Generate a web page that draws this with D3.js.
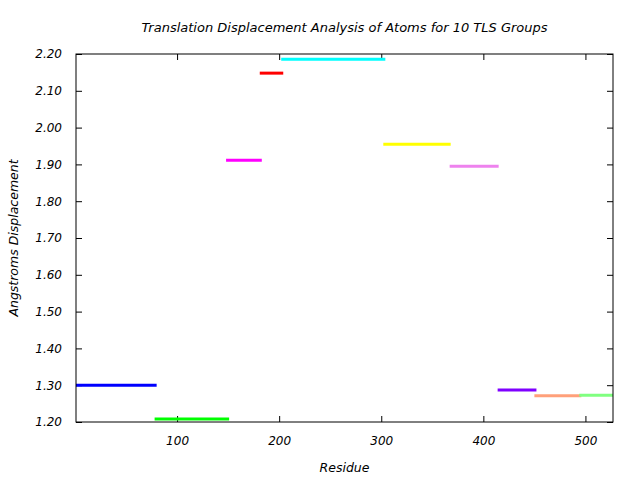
<!DOCTYPE html>
<html><head><meta charset="utf-8">
<script src="https://cdn.jsdelivr.net/npm/d3@7"></script>
<style>body{margin:0;background:#fff}text{font-family:"DejaVu Sans",sans-serif;font-style:italic}</style>
</head><body><svg id="c" width="640" height="480"></svg>
<script>
const groupStart = [1, 78, 148, 181, 202, 302, 367, 414, 450, 494];
const groupEnd   = [80, 151, 183, 204, 304, 368, 415, 452, 496, 527];
const displacement = [1.300, 1.208, 1.911, 2.148, 2.186, 1.955, 1.895, 1.287, 1.271, 1.273];
const colors = ["#0000ff","#00ff00","#ff00ff","#ff0000","#00ffff","#ffff00","#ee82ee","#7f00ff","#ffa07a","#80ff80"];
const xTicks = [100, 200, 300, 400, 500];
const yTicks = [1.2,1.3,1.4,1.5,1.6,1.7,1.8,1.9,2.0,2.1,2.2];

const L=76,R=613,T=54,B=422;
const svg=d3.select("#c");
const x=d3.scaleLinear().domain([1,527]).range([L,R]);
const y=d3.scaleLinear().domain([1.2,2.2]).range([B,T]);

svg.append("clipPath").attr("id","cp").append("rect").attr("x",L).attr("y",T).attr("width",R-L).attr("height",B-T);

svg.append("g").attr("transform",`translate(0,${B})`)
 .call(d3.axisBottom(x).tickValues(xTicks).tickSize(-6).tickPadding(14).tickFormat(d3.format("d")))
 .call(g=>{g.select(".domain").remove();g.selectAll("text").attr("font-size",12).attr("fill","#000");});
svg.append("g").attr("transform",`translate(0,${T})`)
 .call(d3.axisTop(x).tickValues(xTicks).tickSize(-6).tickFormat(""))
 .call(g=>g.select(".domain").remove());
svg.append("g").attr("transform",`translate(${L},0)`)
 .call(d3.axisLeft(y).tickValues(yTicks).tickSize(-6).tickPadding(14).tickFormat(d3.format(".2f")))
 .call(g=>{g.select(".domain").remove();g.selectAll("text").attr("font-size",12).attr("fill","#000");});
svg.append("g").attr("transform",`translate(${R},0)`)
 .call(d3.axisRight(y).tickValues(yTicks).tickSize(-6).tickFormat(""))
 .call(g=>g.select(".domain").remove());

svg.append("g").attr("clip-path","url(#cp)").selectAll("line").data(displacement).join("line")
 .attr("x1",(d,i)=>x(groupStart[i])).attr("x2",(d,i)=>x(groupEnd[i]))
 .attr("y1",d=>y(d)).attr("y2",d=>y(d))
 .attr("stroke",(d,i)=>colors[i]).attr("stroke-width",3);

svg.append("rect").attr("x",L).attr("y",T).attr("width",R-L).attr("height",B-T)
 .attr("fill","none").attr("stroke","#000").attr("stroke-width",1);

svg.append("text").attr("x",(L+R)/2).attr("y",32).attr("text-anchor","middle").attr("font-size",13)
 .text("Translation Displacement Analysis of Atoms for 10 TLS Groups");
svg.append("text").attr("x",(L+R)/2).attr("y",472).attr("text-anchor","middle").attr("font-size",12.5).text("Residue");
svg.append("text").attr("transform",`translate(18,${(T+B)/2}) rotate(-90)`).attr("text-anchor","middle").attr("font-size",12.5).text("Angstroms Displacement");
</script></body></html>
